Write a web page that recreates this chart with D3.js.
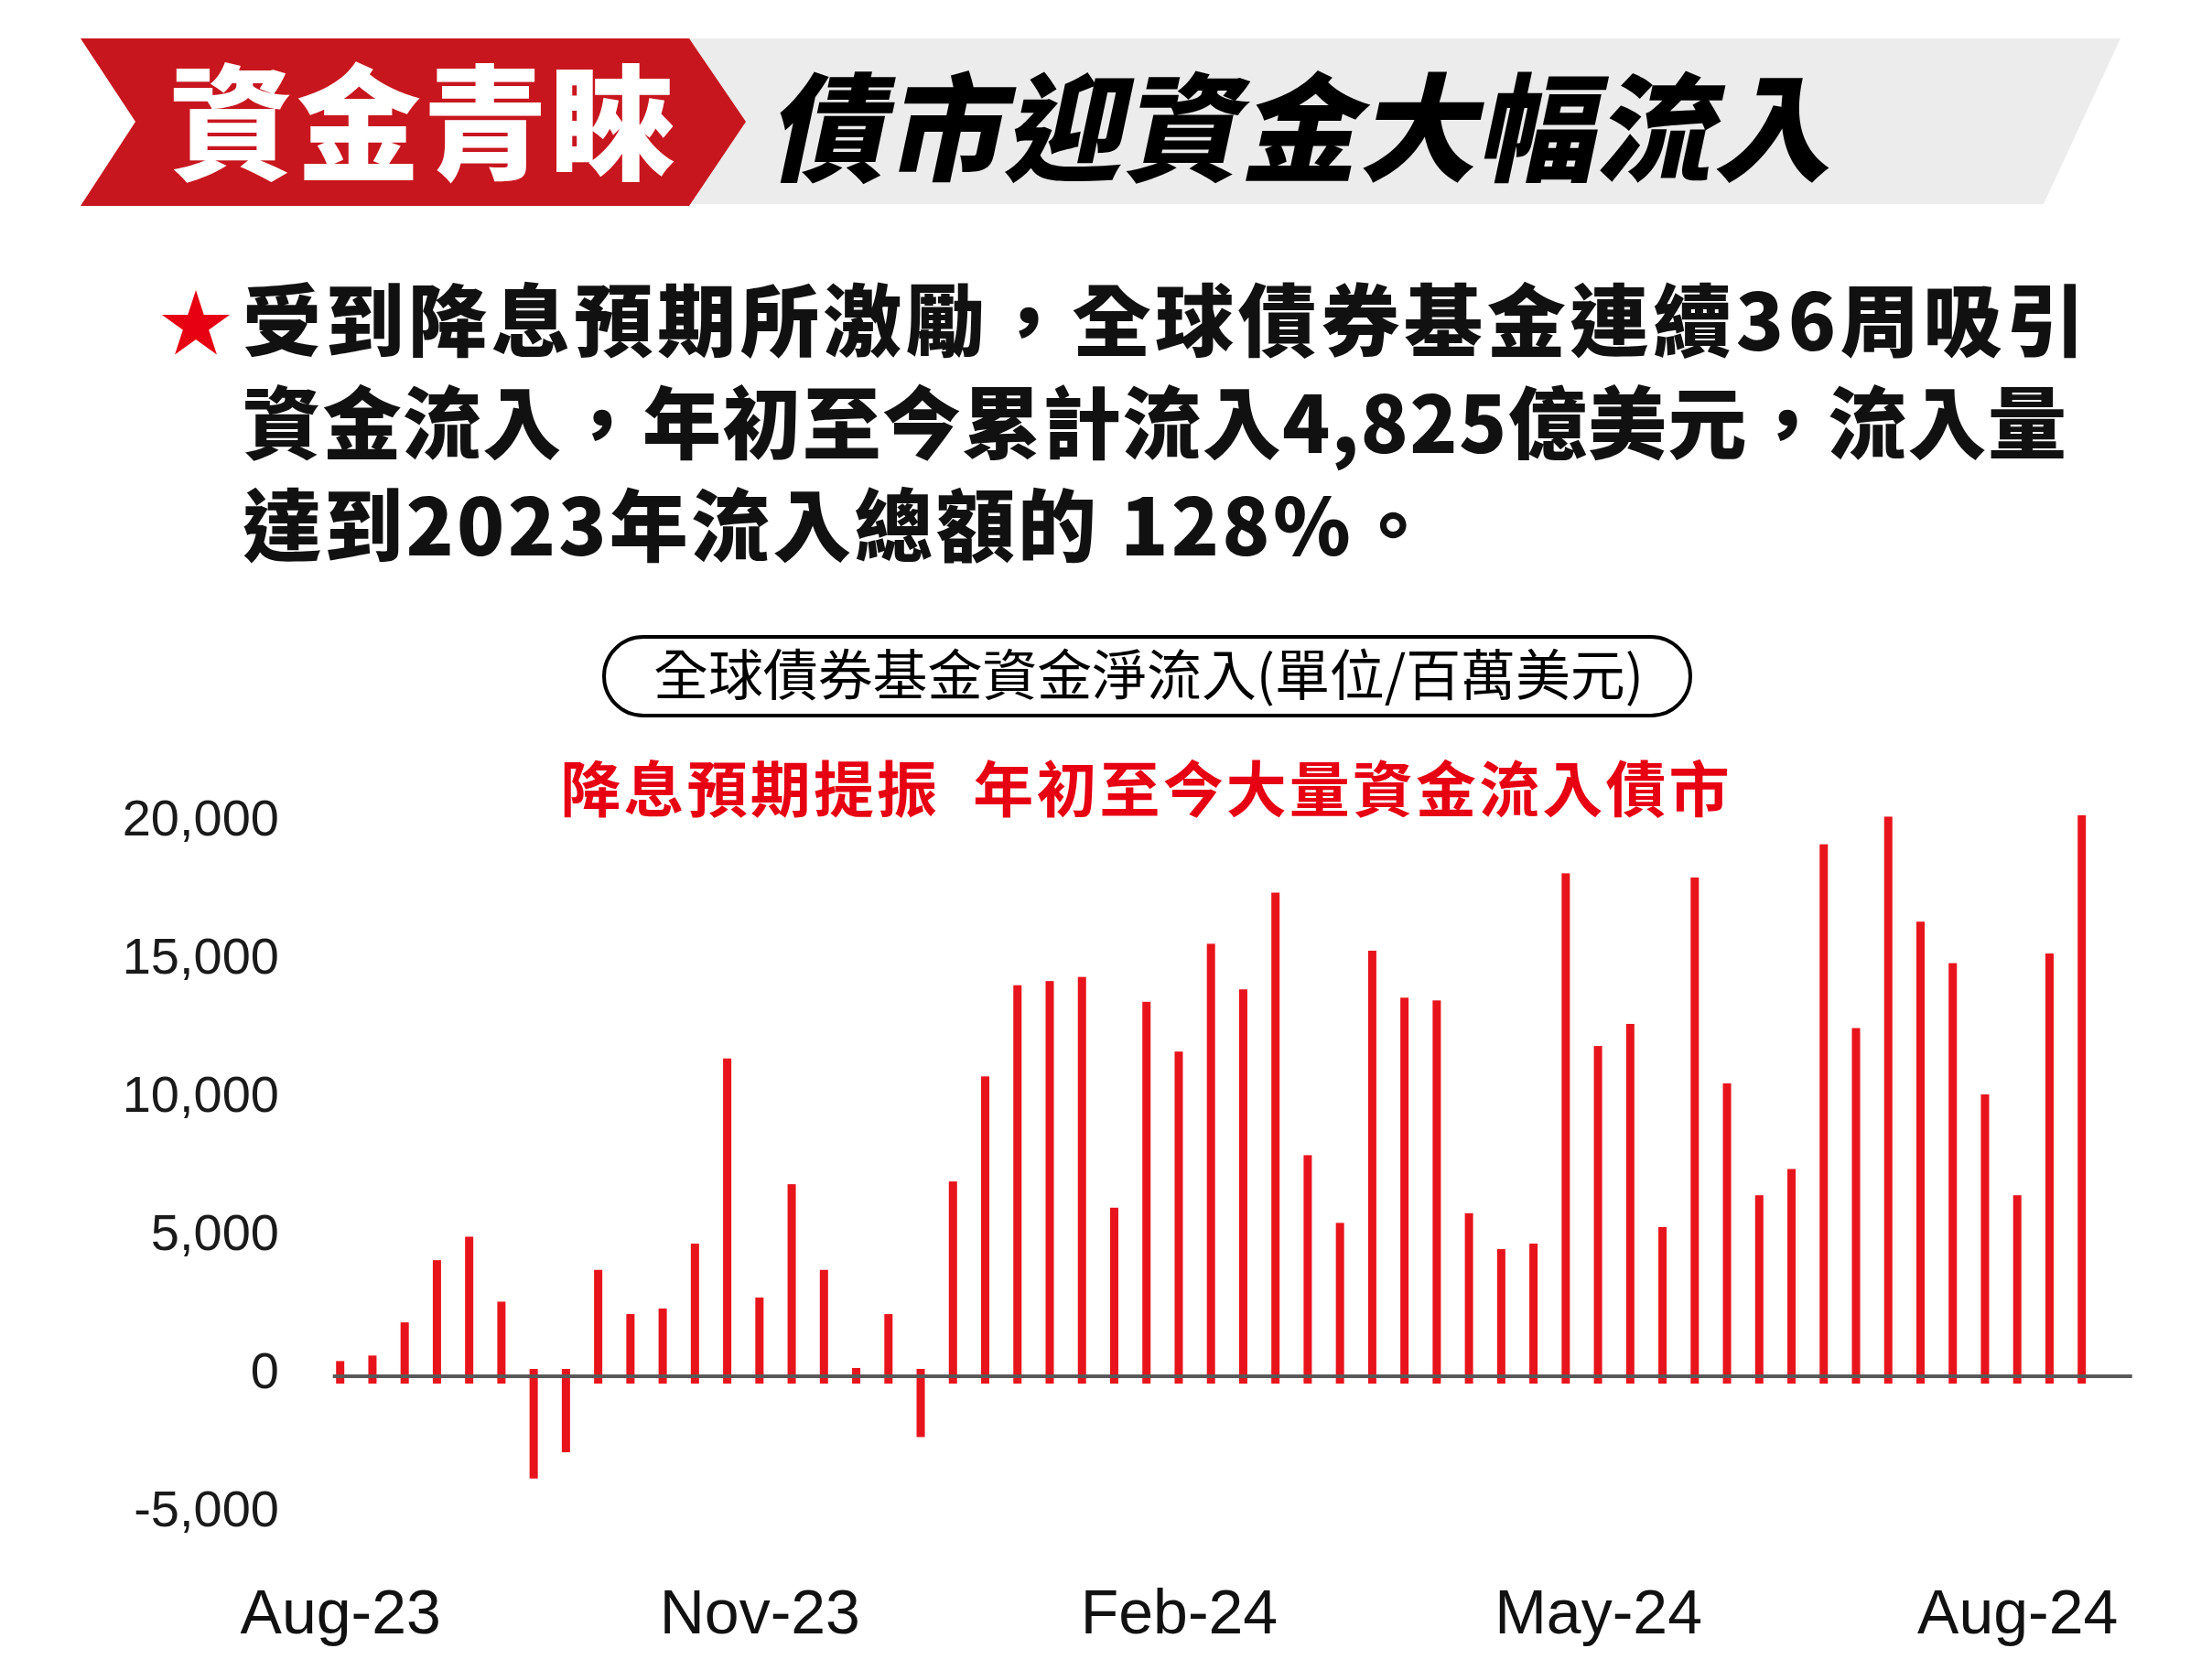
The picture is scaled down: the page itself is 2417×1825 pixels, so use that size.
<!DOCTYPE html>
<html><head><meta charset="utf-8">
<script src="https://cdn.jsdelivr.net/npm/d3@7"></script>
<style>html,body{margin:0;padding:0;background:#fff;} svg{display:block;}</style>
</head><body>
<svg id="chart" width="2417" height="1825"></svg>
<script>
// ---------- data ----------
const categories = [
  "2023-08-03","2023-08-10","2023-08-17","2023-08-24","2023-08-31",
  "2023-09-07","2023-09-14","2023-09-21","2023-09-28",
  "2023-10-05","2023-10-12","2023-10-19","2023-10-26",
  "2023-11-02","2023-11-09","2023-11-16","2023-11-23","2023-11-30",
  "2023-12-07","2023-12-14","2023-12-21","2023-12-28",
  "2024-01-04","2024-01-11","2024-01-18","2024-01-25",
  "2024-02-01","2024-02-08","2024-02-15","2024-02-22","2024-02-29",
  "2024-03-07","2024-03-14","2024-03-21","2024-03-28",
  "2024-04-04","2024-04-11","2024-04-18","2024-04-25",
  "2024-05-02","2024-05-09","2024-05-16","2024-05-23","2024-05-30",
  "2024-06-06","2024-06-13","2024-06-20","2024-06-27",
  "2024-07-04","2024-07-11","2024-07-18","2024-07-25",
  "2024-08-01","2024-08-08","2024-08-15"
];
const netFlows = [
  550, 750, 1950, 4200, 5050,
  2700, -3700, -2750, 3850,
  2250, 2450, 4800, 11500,
  2850, 6950, 3850, 300, 2250,
  -2200, 7050, 10850, 14150,
  14300, 14450, 6100, 13550,
  11750, 15650, 14000, 17500, 8000,
  5550, 15400, 13700, 13600,
  5900, 4600, 4800, 18200,
  11950, 12750, 5400, 18050, 10600,
  6550, 7500, 19250, 12600,
  20250, 16450, 14950, 10200,
  6550, 15300, 20300
];
const yTickValues = [-5000, 0, 5000, 10000, 15000, 20000];
const yTickLabels = ["-5,000", "0", "5,000", "10,000", "15,000", "20,000"];
const xTickCategories = ["2023-08-03", "2023-11-02", "2024-02-01", "2024-05-02", "2024-08-01"];
const xTickLabels = ["Aug-23", "Nov-23", "Feb-24", "May-24", "Aug-24"];

const bannerTag = "資金青睞";
const bannerTitle = "債市迎資金大幅流入";
const bulletLines = [
  "受到降息預期所激勵，全球債券基金連續36周吸引",
  "資金流入，年初至今累計流入4,825億美元，流入量",
  "達到2023年流入總額的 128%。"
];
const chartTitle = "全球債券基金資金淨流入(單位/百萬美元)";
const chartHeadline = "降息預期提振  年初至今大量資金流入債市";

// ---------- drawing ----------
const CJK = "'Noto Sans CJK TC','Noto Sans CJK SC',sans-serif";
const LAT = "'Liberation Sans',Arial,Helvetica,sans-serif";
const svg = d3.select("#chart");
svg.append("rect").attr("width", 2417).attr("height", 1825).attr("fill", "#fff");

// banner
const line = d3.line();
svg.append("path")
  .attr("d", line([[753,42],[2317,42],[2233,223],[753,223]]) + "Z")
  .attr("fill", "#ececec");
svg.append("path")
  .attr("d", line([[88,42],[753,42],[815,133],[753,225],[88,225],[148,133]]) + "Z")
  .attr("fill", "#c8161e");
svg.append("text")
  .attr("x", 185).attr("y", 186)
  .attr("font-family", CJK).attr("font-weight", 900).attr("font-size", 136)
  .attr("fill", "#fff")
  .attr("textLength", 552).attr("lengthAdjust", "spacing")
  .text(bannerTag);
svg.append("text")
  .attr("transform", "translate(838,188) skewX(-12)")
  .attr("font-family", CJK).attr("font-weight", 900).attr("font-size", 128)
  .attr("fill", "#000")
  .attr("textLength", 1162).attr("lengthAdjust", "spacing")
  .text(bannerTitle);

// bullet paragraph
svg.append("path")
  .attr("transform", "translate(214,356)")
  .attr("d", d3.symbol(d3.symbolStar, 1707)())
  .attr("fill", "#e60012");
const lineLengths = [2013, 1993, 1300];
bulletLines.forEach((t, i) => {
  svg.append("text")
    .attr("x", 265).attr("y", 383 + i * 112)
    .attr("font-family", CJK).attr("font-weight", 900).attr("font-size", 86)
    .attr("fill", "#111")
    .style("white-space", "pre")
    .attr("textLength", lineLengths[i]).attr("lengthAdjust", "spacing")
    .text(t);
});

// chart title box
svg.append("rect")
  .attr("x", 660).attr("y", 696).attr("width", 1187).attr("height", 86)
  .attr("rx", 43).attr("ry", 43)
  .attr("fill", "none").attr("stroke", "#000").attr("stroke-width", 4);
svg.append("text")
  .attr("x", 1255).attr("y", 760)
  .attr("text-anchor", "middle")
  .attr("font-family", CJK).attr("font-weight", 400).attr("font-size", 60)
  .attr("fill", "#000")
  .attr("textLength", 1082).attr("lengthAdjust", "spacing")
  .text(chartTitle);
svg.append("text")
  .attr("x", 1251).attr("y", 887)
  .attr("text-anchor", "middle")
  .attr("font-family", CJK).attr("font-weight", 700).attr("font-size", 66)
  .attr("fill", "#e60012")
  .style("white-space", "pre")
  .attr("textLength", 1277).attr("lengthAdjust", "spacing")
  .text(chartHeadline);

// scales
const y = d3.scaleLinear().domain([-5000, 20000]).range([1655, 900]);
const x = d3.scalePoint().domain(categories).range([371.7, 2274.7]);
const barW = 9, overshoot = 8;

// bars
svg.append("g").selectAll("rect")
  .data(categories.map((c, i) => ({c, v: netFlows[i]})))
  .join("rect")
  .attr("x", d => x(d.c) - barW / 2)
  .attr("width", barW)
  .attr("y", d => d.v >= 0 ? y(d.v) : y(0) - overshoot)
  .attr("height", d => d.v >= 0 ? y(0) + overshoot - y(d.v) : y(d.v) - y(0) + overshoot)
  .attr("fill", "#e8141c");

// zero line
svg.append("line")
  .attr("x1", x(categories[0]) - 8).attr("x2", x(categories[categories.length - 1]) + 55)
  .attr("y1", y(0)).attr("y2", y(0))
  .attr("stroke", "#595959").attr("stroke-width", 4);

// y axis
const yAxis = d3.axisLeft(y)
  .tickValues(yTickValues)
  .tickSize(0).tickPadding(0)
  .tickFormat(v => yTickLabels[yTickValues.indexOf(v)]);
const gy = svg.append("g").attr("transform", "translate(305,0)").call(yAxis);
gy.select(".domain").remove();
gy.selectAll("text")
  .attr("font-family", LAT).attr("font-size", 56).attr("fill", "#1a1a1a")
  .attr("dy", "0.22em");

// x axis
const xAxis = d3.axisBottom(x)
  .tickValues(xTickCategories)
  .tickSize(0).tickPadding(1)
  .tickFormat(c => xTickLabels[xTickCategories.indexOf(c)]);
const gx = svg.append("g").attr("transform", "translate(0,1736)").call(xAxis);
gx.select(".domain").remove();
gx.selectAll("text")
  .attr("font-family", LAT).attr("font-size", 68).attr("fill", "#111");
</script>
</body></html>
